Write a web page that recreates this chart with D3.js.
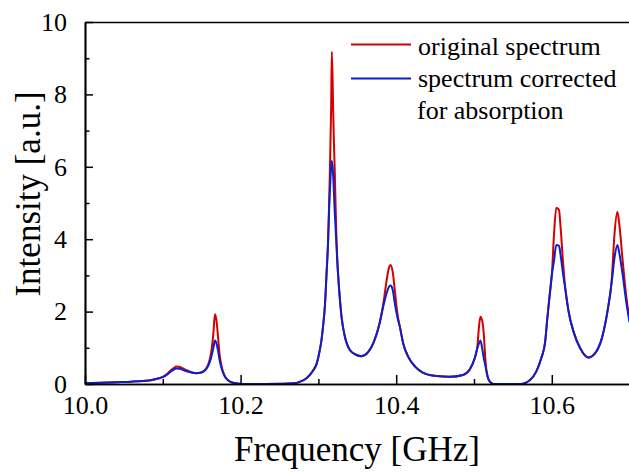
<!DOCTYPE html>
<html>
<head>
<meta charset="utf-8">
<script src="https://cdn.jsdelivr.net/npm/d3@7"></script>
<style>
  html, body { margin: 0; padding: 0; background: #fff; }
  svg { display: block; }
</style>
</head>
<body>
<svg id="chart" width="629" height="472"></svg>
<script>
// ---- data ----
const frequency = [
  10.000, 10.020, 10.040, 10.060, 10.075, 10.086, 10.094, 10.100, 10.105, 10.110,
  10.114, 10.118, 10.122, 10.127, 10.133, 10.138, 10.143, 10.148, 10.152, 10.156,
  10.159, 10.162, 10.165, 10.167, 10.169, 10.171, 10.173, 10.176, 10.179, 10.183,
  10.187, 10.192, 10.198, 10.205, 10.230, 10.255, 10.268, 10.276, 10.283, 10.289,
  10.294, 10.2976, 10.301, 10.304, 10.3065, 10.3083, 10.3105, 10.3125, 10.3138, 10.3147,
  10.3164, 10.3173, 10.3189, 10.3198, 10.3211, 10.3220, 10.3233, 10.3241, 10.3267, 10.3297,
  10.334, 10.3404, 10.349, 10.3554, 10.3639, 10.371, 10.3789, 10.384, 10.3876, 10.3905,
  10.3927, 10.3955, 10.3984, 10.4015, 10.405, 10.409, 10.4155, 10.4243, 10.4347, 10.4518,
  10.4688, 10.4859, 10.4945, 10.5009, 10.5043, 10.5064, 10.5082, 10.5108, 10.5125, 10.5147,
  10.516, 10.519, 10.525, 10.560, 10.572, 10.580, 10.5864, 10.5915, 10.5938, 10.5973,
  10.6003, 10.6028, 10.6058, 10.6092, 10.6114, 10.6144, 10.6173, 10.6216, 10.628, 10.6365,
  10.6471, 10.6557, 10.6643, 10.6715, 10.6771, 10.6805, 10.6843, 10.6869, 10.6912, 10.6955,
  10.700
];
const originalSpectrum = [
  0.02, 0.035, 0.05, 0.065, 0.085, 0.11, 0.15, 0.20, 0.27, 0.37,
  0.44, 0.48, 0.47, 0.42, 0.36, 0.32, 0.30, 0.31, 0.35, 0.44,
  0.58, 0.85, 1.40, 1.93, 1.75, 1.30, 0.82, 0.45, 0.25, 0.12,
  0.06, 0.025, 0.01, 0.0, 0.0, 0.005, 0.02, 0.06, 0.13, 0.25,
  0.40, 0.55, 0.85, 1.22, 1.70, 2.14, 3.06, 3.98, 5.00, 5.83,
  7.66, 9.18, 7.66, 6.80, 5.83, 5.00, 3.98, 3.52, 2.60, 1.86,
  1.31, 0.94, 0.80, 0.77, 0.88, 1.15, 1.70, 2.30, 2.85, 3.20,
  3.29, 3.10, 2.55, 1.95, 1.55, 1.12, 0.75, 0.48, 0.31, 0.22,
  0.20, 0.25, 0.40, 0.71, 1.03, 1.58, 1.86, 1.72, 1.40, 0.66,
  0.36, 0.11, 0.0, 0.0, 0.11, 0.34, 0.71, 1.17, 1.72, 2.46,
  3.10, 4.12, 4.87, 4.81, 4.30, 3.38, 2.64, 2.00, 1.44, 0.99,
  0.73, 0.85, 1.26, 2.00, 2.90, 4.12, 4.76, 4.39, 3.38, 2.46,
  1.75
];
const correctedSpectrum = [
  0.02, 0.035, 0.05, 0.065, 0.085, 0.11, 0.15, 0.19, 0.25, 0.34,
  0.40, 0.43, 0.42, 0.38, 0.34, 0.31, 0.30, 0.31, 0.34, 0.42,
  0.53, 0.72, 1.00, 1.20, 1.12, 0.92, 0.66, 0.40, 0.23, 0.12,
  0.06, 0.025, 0.01, 0.0, 0.0, 0.005, 0.02, 0.06, 0.13, 0.25,
  0.40, 0.55, 0.85, 1.22, 1.70, 2.14, 3.06, 3.95, 4.85, 5.30,
  6.00, 6.17, 5.80, 5.36, 4.70, 4.35, 3.80, 3.45, 2.60, 1.86,
  1.31, 0.94, 0.80, 0.77, 0.88, 1.15, 1.70, 2.20, 2.50, 2.68,
  2.72, 2.60, 2.20, 1.85, 1.55, 1.12, 0.75, 0.48, 0.31, 0.22,
  0.20, 0.25, 0.40, 0.71, 0.99, 1.12, 1.20, 0.95, 0.72, 0.50,
  0.36, 0.11, 0.0, 0.0, 0.11, 0.34, 0.71, 1.17, 1.72, 2.46,
  3.05, 3.40, 3.84, 3.82, 3.55, 3.05, 2.64, 2.00, 1.44, 0.99,
  0.73, 0.85, 1.26, 2.00, 2.83, 3.47, 3.84, 3.60, 3.00, 2.30,
  1.70
];
const seriesNames = ["original spectrum", "spectrum corrected", "for absorption"];
const xMajorTicks = [10.0, 10.2, 10.4, 10.6];
const xMinorTicks = [10.1, 10.3, 10.5];
const yMajorTicks = [0, 2, 4, 6, 8, 10];
const yMinorTicks = [1, 3, 5, 7, 9];

// ---- layout ----
const FONT = '"Liberation Serif", "Times New Roman", serif';
const svg = d3.select("#chart");
const mLeft = 85, mRight = 629.6, mTop = 22, mBottom = 384;
const x = d3.scaleLinear().domain([10.0, 10.7]).range([mLeft, mRight]);
const y = d3.scaleLinear().domain([0, 10]).range([mBottom, mTop]);

const red = "#d40000", blue = "#0a20cc";

// curves
const makeLine = vals => d3.line()
  .x((d, i) => x(frequency[i]))
  .y((d, i) => y(vals[i]))
  .curve(d3.curveMonotoneX)(vals);

svg.append("path").attr("d", makeLine(originalSpectrum))
  .attr("fill", "none").attr("stroke", red).attr("stroke-width", 2).attr("stroke-linejoin", "round");
svg.append("path").attr("d", makeLine(correctedSpectrum))
  .attr("fill", "none").attr("stroke", blue).attr("stroke-width", 2).attr("stroke-linejoin", "round");

// axes
const fmtX = d3.format(".1f");
const axisStyle = g => {
  g.attr("font-family", null);
  g.selectAll(".domain").attr("stroke", "#000").attr("stroke-width", 1.7);
  g.selectAll(".tick line").attr("stroke", "#000").attr("stroke-width", 1.5);
  g.selectAll("text").attr("font-size", 26).attr("fill", "#000");
};

// bottom major
const gx = svg.append("g").attr("transform", `translate(0,${mBottom})`)
  .call(d3.axisBottom(x).tickValues(xMajorTicks).tickFormat(fmtX).tickSizeInner(-9).tickSizeOuter(0).tickPadding(17))
  .call(axisStyle);
gx.selectAll("text").attr("dy", "0.71em").attr("y", 12);
// bottom minor
svg.append("g").attr("transform", `translate(0,${mBottom})`)
  .call(d3.axisBottom(x).tickValues(xMinorTicks).tickFormat("").tickSizeInner(-5).tickSizeOuter(0))
  .call(axisStyle);

// left major
svg.append("g").attr("transform", `translate(${mLeft},0)`)
  .call(d3.axisLeft(y).tickValues(yMajorTicks).tickFormat(d3.format("d")).tickSizeInner(-8).tickSizeOuter(0).tickPadding(18))
  .call(axisStyle);
// left minor
svg.append("g").attr("transform", `translate(${mLeft},0)`)
  .call(d3.axisLeft(y).tickValues(yMinorTicks).tickFormat("").tickSizeInner(-4.5).tickSizeOuter(0))
  .call(axisStyle);

// top frame line
svg.append("g").attr("transform", `translate(0,${mTop})`)
  .call(d3.axisTop(x).tickValues([]).tickSizeOuter(0))
  .call(axisStyle);

// axis titles
svg.append("text").attr("x", 357).attr("y", 461).attr("text-anchor", "middle")
  .attr("font-size", 35).text("Frequency [GHz]");
svg.append("text").attr("transform", "translate(40,194) rotate(-90)").attr("text-anchor", "middle")
  .attr("font-size", 35).text("Intensity [a.u.]");

// legend
const legend = svg.append("g").attr("font-size", 26);
const lx1 = 351, lx2 = 411, tx = 418;
legend.append("line").attr("x1", lx1).attr("x2", lx2).attr("y1", 44.5).attr("y2", 44.5)
  .attr("stroke", red).attr("stroke-width", 2);
legend.append("line").attr("x1", lx1).attr("x2", lx2).attr("y1", 78.5).attr("y2", 78.5)
  .attr("stroke", blue).attr("stroke-width", 2);
legend.append("text").attr("x", tx).attr("y", 55).text(seriesNames[0]);
legend.append("text").attr("x", tx).attr("y", 87).text(seriesNames[1]);
legend.append("text").attr("x", tx - 1).attr("y", 118.5).text(seriesNames[2]);

// force the serif face on every text element (inline, important)
svg.selectAll("text")
  .attr("font-family", FONT)
  .style("font-family", FONT, "important")
  .style("fill", "#000");
</script>
</body>
</html>
